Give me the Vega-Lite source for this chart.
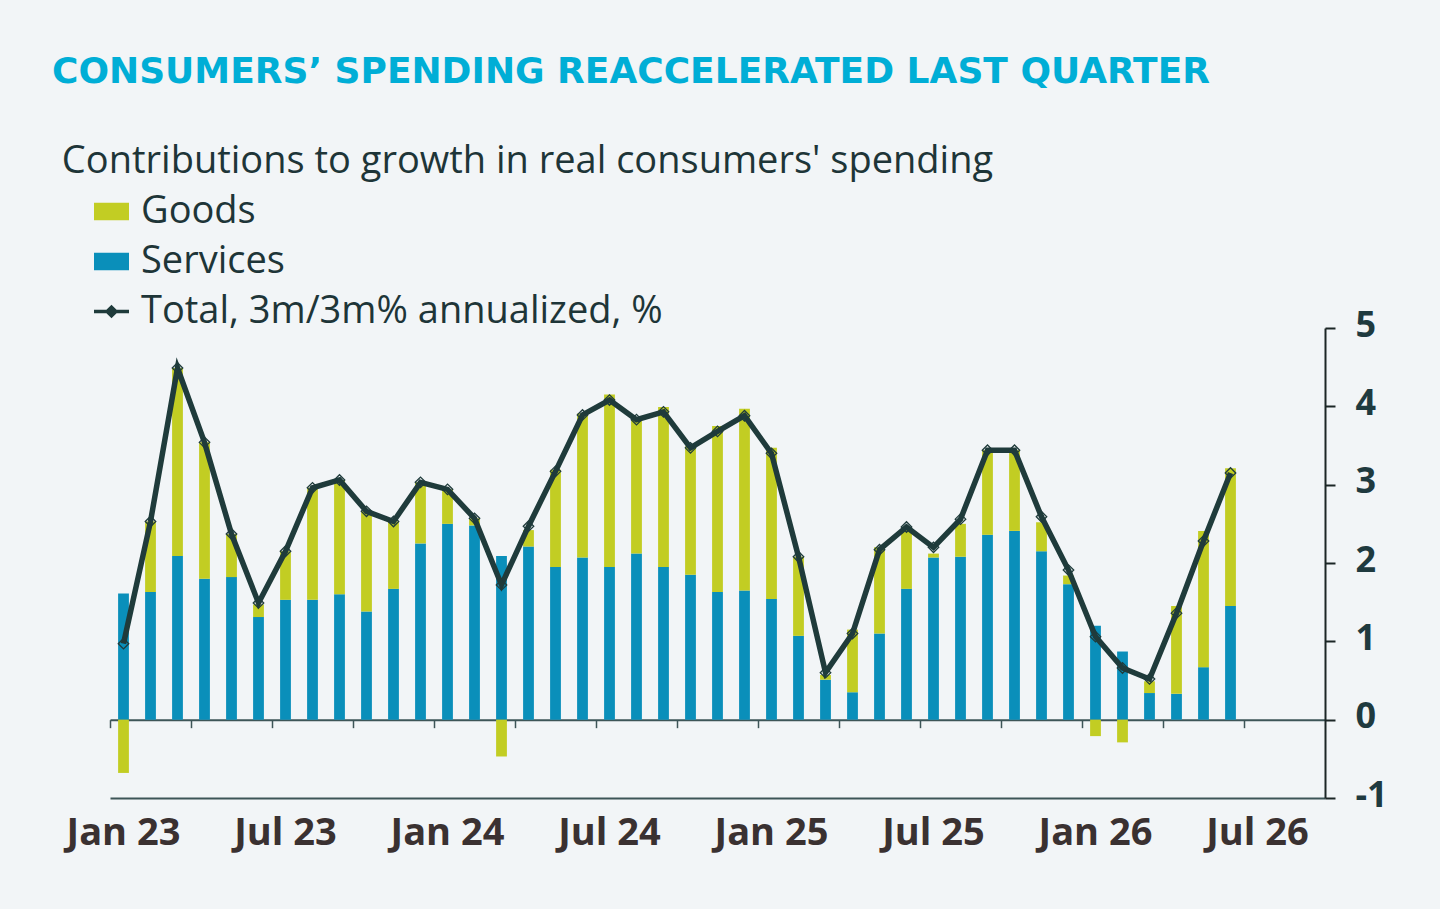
{
  "$schema": "https://vega.github.io/schema/vega-lite/v6.json",
  "width": 1215,
  "height": 470,
  "autosize": {"type": "none"},
  "padding": {"left": 110, "top": 328, "right": 115, "bottom": 111},
  "background": "#f2f5f7",
  "title": {
    "text": "CONSUMERS’ SPENDING REACCELERATED LAST QUARTER",
    "subtitle": "\u200b\u00a0Contributions to growth in real consumers' spending",
    "anchor": "start",
    "frame": "group",
    "dx": -58,
    "offset": 10,
    "font": "DejaVu Sans",
    "fontSize": 36,
    "fontWeight": "bold",
    "color": "#00aed6",
    "subtitleFont": "Open Sans",
    "subtitleFontSize": 38,
    "subtitleFontWeight": 500,
    "subtitleColor": "#1e3538",
    "subtitlePadding": 52
  },
  "data": {
    "values": [
      {"month": "Jan 23", "Goods": -0.68, "Services": 1.61, "Total": 0.97},
      {"month": "Feb 23", "Goods": 0.90, "Services": 1.63, "Total": 2.53},
      {"month": "Mar 23", "Goods": 2.40, "Services": 2.09, "Total": 4.49},
      {"month": "Apr 23", "Goods": 1.74, "Services": 1.80, "Total": 3.54},
      {"month": "May 23", "Goods": 0.55, "Services": 1.82, "Total": 2.37},
      {"month": "Jun 23", "Goods": 0.16, "Services": 1.31, "Total": 1.49},
      {"month": "Jul 23", "Goods": 0.62, "Services": 1.53, "Total": 2.15},
      {"month": "Aug 23", "Goods": 1.43, "Services": 1.53, "Total": 2.96},
      {"month": "Sep 23", "Goods": 1.46, "Services": 1.60, "Total": 3.06},
      {"month": "Oct 23", "Goods": 1.28, "Services": 1.38, "Total": 2.66},
      {"month": "Nov 23", "Goods": 0.86, "Services": 1.67, "Total": 2.53},
      {"month": "Dec 23", "Goods": 0.78, "Services": 2.25, "Total": 3.03},
      {"month": "Jan 24", "Goods": 0.44, "Services": 2.50, "Total": 2.94},
      {"month": "Feb 24", "Goods": 0.09, "Services": 2.48, "Total": 2.57},
      {"month": "Mar 24", "Goods": -0.47, "Services": 2.09, "Total": 1.72},
      {"month": "Apr 24", "Goods": 0.21, "Services": 2.21, "Total": 2.47},
      {"month": "May 24", "Goods": 1.24, "Services": 1.95, "Total": 3.17},
      {"month": "Jun 24", "Goods": 1.84, "Services": 2.07, "Total": 3.89},
      {"month": "Jul 24", "Goods": 2.20, "Services": 1.95, "Total": 4.08},
      {"month": "Aug 24", "Goods": 1.73, "Services": 2.12, "Total": 3.83},
      {"month": "Sep 24", "Goods": 2.04, "Services": 1.95, "Total": 3.93},
      {"month": "Oct 24", "Goods": 1.64, "Services": 1.85, "Total": 3.47},
      {"month": "Nov 24", "Goods": 2.12, "Services": 1.63, "Total": 3.68},
      {"month": "Dec 24", "Goods": 2.32, "Services": 1.65, "Total": 3.88},
      {"month": "Jan 25", "Goods": 1.93, "Services": 1.54, "Total": 3.40},
      {"month": "Feb 25", "Goods": 1.01, "Services": 1.07, "Total": 2.08},
      {"month": "Mar 25", "Goods": 0.06, "Services": 0.51, "Total": 0.60},
      {"month": "Apr 25", "Goods": 0.80, "Services": 0.35, "Total": 1.10},
      {"month": "May 25", "Goods": 1.10, "Services": 1.10, "Total": 2.17},
      {"month": "Jun 25", "Goods": 0.77, "Services": 1.67, "Total": 2.46},
      {"month": "Jul 25", "Goods": 0.05, "Services": 2.07, "Total": 2.20},
      {"month": "Aug 25", "Goods": 0.42, "Services": 2.08, "Total": 2.56},
      {"month": "Sep 25", "Goods": 1.08, "Services": 2.36, "Total": 3.44},
      {"month": "Oct 25", "Goods": 1.03, "Services": 2.41, "Total": 3.44},
      {"month": "Nov 25", "Goods": 0.37, "Services": 2.15, "Total": 2.59},
      {"month": "Dec 25", "Goods": 0.11, "Services": 1.73, "Total": 1.91},
      {"month": "Jan 26", "Goods": -0.21, "Services": 1.20, "Total": 1.06},
      {"month": "Feb 26", "Goods": -0.29, "Services": 0.87, "Total": 0.66},
      {"month": "Mar 26", "Goods": 0.15, "Services": 0.34, "Total": 0.52},
      {"month": "Apr 26", "Goods": 1.12, "Services": 0.33, "Total": 1.36},
      {"month": "May 26", "Goods": 1.74, "Services": 0.67, "Total": 2.28},
      {"month": "Jun 26", "Goods": 1.76, "Services": 1.45, "Total": 3.15}
    ]
  },
  "encoding": {
    "x": {
      "field": "month",
      "type": "nominal",
      "sort": null,
      "scale": {
        "domain": ["Jan 23", "Feb 23", "Mar 23", "Apr 23", "May 23", "Jun 23", "Jul 23", "Aug 23", "Sep 23", "Oct 23", "Nov 23", "Dec 23",
                   "Jan 24", "Feb 24", "Mar 24", "Apr 24", "May 24", "Jun 24", "Jul 24", "Aug 24", "Sep 24", "Oct 24", "Nov 24", "Dec 24",
                   "Jan 25", "Feb 25", "Mar 25", "Apr 25", "May 25", "Jun 25", "Jul 25", "Aug 25", "Sep 25", "Oct 25", "Nov 25", "Dec 25",
                   "Jan 26", "Feb 26", "Mar 26", "Apr 26", "May 26", "Jun 26", "Jul 26", "Aug 26", "Sep 26"],
        "paddingInner": 0.6,
        "paddingOuter": 0.3
      }
    }
  },
  "layer": [
    {
      "transform": [{"fold": ["Services", "Goods"], "as": ["component", "value"]}],
      "mark": {"type": "bar"},
      "encoding": {
        "x": {
          "field": "month",
          "type": "nominal",
          "axis": {
            "orient": "bottom",
            "title": null,
            "values": ["Jan 23", "Jul 23", "Jan 24", "Jul 24", "Jan 25", "Jul 25", "Jan 26", "Jul 26"],
            "ticks": false,
            "labelAngle": 0,
            "labelFont": "Open Sans",
            "labelFontSize": 38,
            "labelFontWeight": "bold",
            "labelColor": "#3a3131",
            "labelPadding": 16,
            "domainColor": "#3d5557",
            "domainWidth": 2
          }
        },
        "y": {
          "field": "value",
          "type": "quantitative",
          "stack": "zero",
          "scale": {"domain": [-1, 5], "nice": false},
          "axis": {"orient": "right", "title": null, "values": [-1, 0, 1, 2, 3, 4, 5], "labelExpr": "'' + datum.value"}
        },
        "color": {
          "field": "component",
          "type": "nominal",
          "scale": {
            "domain": ["Goods", "Services", "Total, 3m/3m% annualized, %"],
            "range": ["#c2cd23", "#0a8fba", "#1f3b3b"]
          },
          "legend": {
            "orient": "none",
            "legendX": -18,
            "legendY": -136,
            "title": null,
            "padding": 0,
            "symbolSize": 1225,
            "symbolType": "M-1,-0.5H1V0.5H-1Z",
            "labelFont": "Open Sans",
            "labelFontSize": 38,
            "labelFontWeight": 500,
            "labelColor": "#1e3538",
            "labelOffset": 10,
            "rowPadding": 11,
            "labelLimit": 800,
            "encode": {
              "symbols": {
                "update": {
                  "shape": {"signal": "datum.value == 'Total, 3m/3m% annualized, %' ? 'M-1,0H1M0,-0.25L0.25,0L0,0.25L-0.25,0Z' : 'M-1,-0.5H1V0.5H-1Z'"},
                  "fill": {"signal": "datum.value == 'Goods' ? '#c2cd23' : datum.value == 'Services' ? '#0a8fba' : '#ffffff'"},
                  "stroke": {"signal": "datum.value == 'Total, 3m/3m% annualized, %' ? '#1f3b3b' : null"},
                  "strokeWidth": {"value": 3.5},
                  "opacity": {"value": 1}
                }
              }
            }
          }
        },
        "order": {"field": "component", "sort": "descending"}
      }
    },
    {
      "mark": {
        "type": "line",
        "color": "#1f3b3b",
        "strokeWidth": 5.5,
        "point": {"shape": "diamond", "filled": false, "stroke": "#1f3b3b", "strokeWidth": 1.3, "size": 110, "opacity": 1}
      },
      "encoding": {
        "x": {
          "field": "month",
          "type": "nominal",
          "axis": {
            "orient": "top",
            "title": null,
            "labels": false,
            "values": ["Jan 23", "Apr 23", "Jul 23", "Oct 23", "Jan 24", "Apr 24", "Jul 24", "Oct 24",
                       "Jan 25", "Apr 25", "Jul 25", "Oct 25", "Jan 26", "Apr 26", "Jul 26"],
            "offset": -391.667,
            "bandPosition": 0.5,
            "tickOffset": -13.5,
            "tickSize": -8,
            "tickWidth": 1.5,
            "tickColor": "#3d5557",
            "domainColor": "#3d5557",
            "domainWidth": 2
          }
        },
        "y": {
          "field": "Total",
          "type": "quantitative",
          "axis": {"orient": "right", "title": null, "values": [-1, 0, 1, 2, 3, 4, 5], "labelExpr": "'' + datum.value"}
        }
      }
    }
  ],
  "config": {
    "view": {"stroke": null},
    "axisY": {
      "grid": false,
      "domainColor": "#1c2626",
      "domainWidth": 2,
      "tickColor": "#1c2626",
      "tickWidth": 2,
      "tickSize": 10,
      "labelFont": "Open Sans",
      "labelFontSize": 36,
      "labelFontWeight": "bold",
      "labelColor": "#1f3a3f",
      "labelPadding": 20,
      "labelOffset": -3
    }
  }
}
